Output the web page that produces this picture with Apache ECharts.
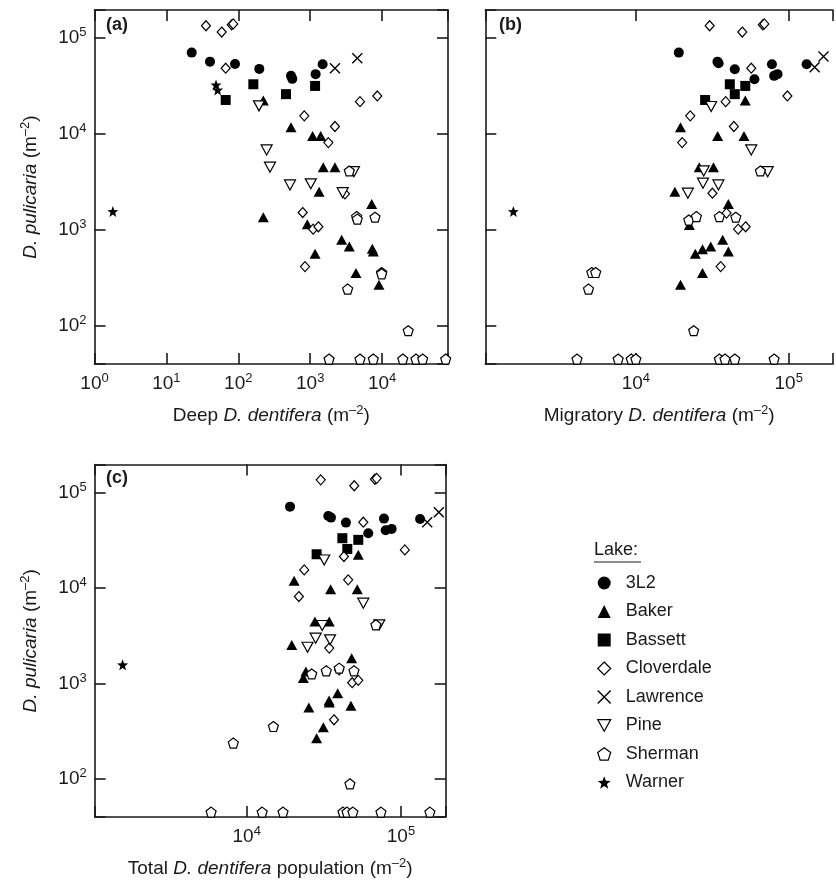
<!DOCTYPE html>
<html><head><meta charset="utf-8">
<script src="https://cdn.jsdelivr.net/npm/echarts@6/dist/echarts.min.js"></script>
<style>html,body{margin:0;padding:0;background:#fff}#c{width:836px;height:882px}</style>
</head><body><div id="c"></div>
<script>
// ---------- data: [D. dentifera (m-2), D. pulicaria (m-2)] ----------
const lakes = ['3L2','Baker','Bassett','Cloverdale','Lawrence','Pine','Sherman','Warner'];

// Panel (a): Deep D. dentifera
const deep_3L2 = [[22.5,70800],[40.4,57000],[90,53900],[196,47900],[541,40500],[564,37700],[1190,42200],[1490,53500]];
const deep_Baker = [[223,22400],[541,11800],[1080,9580],[1400,9580],[1520,4520],[2210,4520],[1330,2510],[7170,1870],[912,1150],[2740,789],[3500,671],[1170,564],[7310,636],[7550,596],[4330,355],[9050,268],[223,1360]];
const deep_Bassett = [[162,33100],[66.8,22700],[461,26100],[1170,31800]];
const deep_Cloverdale = [[35.5,135000],[58.8,116000],[81,138000],[85,141000],[66.8,48700],[828,15500],[4930,21800],[8580,25000],[2210,12000],[1790,8150],[3050,2380],[787,1520],[1100,1020],[1300,1080],[847,415],[4430,1340]];
const deep_Lawrence = [[2210,48700],[4520,61800]];
const deep_Pine = [[194,19700],[248,6840],[276,4520],[524,2950],[1020,3030],[4060,4060],[2830,2450]];
const deep_Sherman = [[3500,4130],[4430,1380],[4520,1300],[7970,1360],[9870,360],[9870,349],[3320,242],[23100,89],[1830,45],[4930,45],[7550,45],[19400,45],[29600,45],[36700,45],[76700,45]];
const deep_Warner = [[49,32600],[51.7,28900],[1.8,1560]];

// Panel (b): Migratory D. dentifera
const migr_3L2 = [[19100,70800],[34200,57000],[34800,54800],[44400,47500],[77700,53500],[80300,40500],[84500,42200],[59700,37400],[131000,53500]];
const migr_Baker = [[52000,22400],[19600,11800],[34300,9580],[51000,9580],[26000,4520],[32200,4520],[18000,2510],[40300,1870],[24500,1380],[22400,1130],[37000,789],[30900,671],[27300,631],[24500,564],[40300,596],[27300,355],[19600,268]];
const migr_Bassett = [[41200,33100],[52000,31800],[44400,26100],[28400,22700]];
const migr_Cloverdale = [[30400,135000],[49700,116000],[67700,138000],[69300,141000],[56900,48700],[38700,21800],[98100,25000],[22700,15500],[43800,12000],[20100,8150],[31700,2420],[39200,1500],[46700,1020],[52300,1080],[35900,415]];
const migr_Lawrence = [[148000,49900],[169000,64300]];
const migr_Pine = [[31100,19400],[56900,6840],[27800,4130],[72900,4060],[27500,3080],[34700,2950],[21900,2420]];
const migr_Sherman = [[65300,4130],[35200,1380],[45100,1360],[22200,1270],[24900,1380],[5150,360],[5460,360],[4900,242],[23900,89],[4120,45],[7660,45],[9330,45],[10000,45],[35200,45],[38300,45],[44400,45],[80300,45]];
const migr_Warner = [[1580,1560]];

// Panel (c): Total D. dentifera population
const total_3L2 = [[19100,71300],[33800,57000],[35200,54700],[44000,48500],[77600,53400],[61400,37600],[79600,40400],[87000,41700],[133000,53000]];
const total_Baker = [[52900,22300],[20300,11900],[35000,9730],[52100,9730],[27700,4460],[34300,4460],[19600,2540],[47900,1840],[24200,1340],[23300,1140],[38900,792],[34200,663],[34300,632],[25300,561],[47400,584],[31400,349],[28400,268]];
const total_Bassett = [[41700,33300],[52900,32000],[44900,25700],[28400,22600]];
const total_Cloverdale = [[30200,136000],[49800,118000],[67800,138000],[69600,141000],[57000,49000],[42700,21400],[106000,25100],[23600,15500],[45500,12200],[21800,8150],[34300,2350],[39800,1390],[48300,1020],[52900,1080],[36800,417]];
const total_Lawrence = [[148000,49000],[176000,62400]];
const total_Pine = [[31800,19700],[57000,6950],[30900,4050],[72400,4120],[28000,2990],[34700,2870],[24800,2400]];
const total_Sherman = [[68800,4120],[26400,1260],[32800,1360],[39800,1450],[49600,1360],[14900,355],[8190,238],[46700,89],[5880,45],[12600,45],[17200,45],[42100,45],[44700,45],[48800,45],[74200,45],[154000,45]];
const total_Warner = [[1570,1570]];

// axis ranges
const yRange = [40, 197000];
const xRangeDeep = [1, 82600];
const xRangeMigr = [1035, 195000];
const xRangeTotal = [1035, 195000];

const xNames = ['Deep {i|D. dentifera} (m{s|–2})', 'Migratory {i|D. dentifera} (m{s|–2})', 'Total {i|D. dentifera} population (m{s|–2})'];
const yName = '{i|D. pulicaria} (m{s|–2})';

const panels = [
  {label:'(a)', sets:{'3L2':deep_3L2,Baker:deep_Baker,Bassett:deep_Bassett,Cloverdale:deep_Cloverdale,Lawrence:deep_Lawrence,Pine:deep_Pine,Sherman:deep_Sherman,Warner:deep_Warner}, xr:xRangeDeep},
  {label:'(b)', sets:{'3L2':migr_3L2,Baker:migr_Baker,Bassett:migr_Bassett,Cloverdale:migr_Cloverdale,Lawrence:migr_Lawrence,Pine:migr_Pine,Sherman:migr_Sherman,Warner:migr_Warner}, xr:xRangeMigr},
  {label:'(c)', sets:{'3L2':total_3L2,Baker:total_Baker,Bassett:total_Bassett,Cloverdale:total_Cloverdale,Lawrence:total_Lawrence,Pine:total_Pine,Sherman:total_Sherman,Warner:total_Warner}, xr:xRangeTotal}
];

// ---------- styling ----------
const FONT = '"Liberation Sans", Arial, Helvetica, sans-serif';
const INK = '#1a1a1a';
const MK = '#000';
const grids = [
  {left:94.5, top:10, width:353.5, height:354},
  {left:485.3, top:10, width:352.6, height:354},
  {left:94.7, top:464.5, width:351, height:352.5}
];
const PENT = 'path://M5,0L9.76,3.45L7.94,9.05L2.06,9.05L0.24,3.45Z';
const STAR = 'path://M5,0L6.23,3.3L9.76,3.45L7,5.65L7.94,9.05L5,7.1L2.06,9.05L3,5.65L0.24,3.45L3.77,3.3Z';
const CROSS = 'path://M0,0L10,10M10,0L0,10';
const TRIDOWN = 'path://M0,0L10,0L5,9Z';
const sym = {
  '3L2':{symbol:'circle', symbolSize:10, itemStyle:{color:MK, borderColor:MK, borderWidth:0, opacity:1}},
  'Baker':{symbol:'triangle', symbolSize:[11,10], itemStyle:{color:MK, borderColor:MK, borderWidth:0, opacity:1}},
  'Bassett':{symbol:'rect', symbolSize:10, itemStyle:{color:MK, borderColor:MK, borderWidth:0, opacity:1}},
  'Cloverdale':{symbol:'diamond', symbolSize:[9,10], itemStyle:{color:'#fff', borderColor:MK, borderWidth:1.2, opacity:1}},
  'Lawrence':{symbol:CROSS, symbolSize:10, itemStyle:{color:'rgba(0,0,0,0)', borderColor:MK, borderWidth:1.4, opacity:1}},
  'Pine':{symbol:TRIDOWN, symbolSize:[11,10], itemStyle:{color:'#fff', borderColor:MK, borderWidth:1.2, opacity:1}},
  'Sherman':{symbol:PENT, symbolSize:10, itemStyle:{color:'#fff', borderColor:MK, borderWidth:1.2, opacity:1}},
  'Warner':{symbol:STAR, symbolSize:11, itemStyle:{color:MK, borderColor:MK, borderWidth:0, opacity:1}}
};

function tickFmt(v){
  const l = Math.log10(v), e = Math.round(l);
  if (Math.abs(l - e) > 0.001) return '';
  return '{b|10}{s|' + e + '}';
}
const tickRich = {
  b:{fontSize:19, fontFamily:FONT, color:INK, lineHeight:24},
  s:{fontSize:13, fontFamily:FONT, color:INK, verticalAlign:'top', lineHeight:13}
};
const nameRich = {
  i:{fontSize:19, fontFamily:FONT, color:INK, fontStyle:'italic', lineHeight:24},
  s:{fontSize:13, fontFamily:FONT, color:INK, verticalAlign:'top', lineHeight:13}
};
const lineStyle = {color:INK, width:1.6};

const xAxis = [], yAxis = [], series = [];
panels.forEach((p, g) => {
  xAxis.push({type:'log', logBase:10, gridIndex:g, position:'bottom', min:p.xr[0], max:p.xr[1],
    axisLine:{show:true, lineStyle}, axisTick:{show:true, inside:true, length:11, lineStyle},
    splitLine:{show:false}, minorTick:{show:false},
    axisLabel:{show:true, margin:8, formatter:tickFmt, rich:tickRich, showMinLabel:true, showMaxLabel:true, hideOverlap:false},
    name:xNames[g], nameLocation:'middle', nameGap:40,
    nameTextStyle:{fontSize:19, fontFamily:FONT, color:INK, rich:nameRich}});
  xAxis.push({type:'log', logBase:10, gridIndex:g, position:'top', min:p.xr[0], max:p.xr[1],
    axisLine:{show:true, lineStyle}, axisTick:{show:true, inside:true, length:11, lineStyle},
    splitLine:{show:false}, axisLabel:{show:false}});
  const showY = g !== 1;
  yAxis.push({type:'log', logBase:10, gridIndex:g, position:'left', min:yRange[0], max:yRange[1],
    axisLine:{show:true, lineStyle}, axisTick:{show:true, inside:true, length:11, lineStyle},
    splitLine:{show:false}, minorTick:{show:false},
    axisLabel:{show:showY, margin:8, formatter:tickFmt, rich:tickRich, hideOverlap:false},
    name: showY ? yName : '', nameLocation:'middle', nameGap:52, nameRotate:90,
    nameTextStyle:{fontSize:19, fontFamily:FONT, color:INK, rich:nameRich}});
  yAxis.push({type:'log', logBase:10, gridIndex:g, position:'right', min:yRange[0], max:yRange[1],
    show: g !== 1,
    axisLine:{show:true, lineStyle}, axisTick:{show:true, inside:true, length:11, lineStyle},
    splitLine:{show:false}, axisLabel:{show:false}});
  lakes.forEach(name => {
    const s = sym[name];
    series.push(Object.assign({type:'scatter', name, xAxisIndex:2*g, yAxisIndex:2*g,
      data:p.sets[name], clip:true, silent:true, z:2}, JSON.parse(JSON.stringify(s))));
  });
});

const chart = echarts.init(document.getElementById('c'), null, {renderer:'canvas'});
chart.setOption({
  backgroundColor:'#fff',
  animation:false,
  textStyle:{fontFamily:FONT},
  grid:grids,
  xAxis, yAxis, series,
  legend:{
    data:lakes, orient:'vertical', left:592, top:569, itemWidth:13, itemHeight:13, itemGap:10.5,
    selectedMode:false,
    itemStyle:{borderWidth:'inherit', opacity:1},
    textStyle:{fontSize:18, fontFamily:FONT, color:INK, padding:[0,0,0,10]}
  },
  graphic:[
    {type:'text', left:106, top:16, style:{text:'(a)', font:'bold 18px ' + FONT, fill:INK}},
    {type:'text', left:499, top:16, style:{text:'(b)', font:'bold 18px ' + FONT, fill:INK}},
    {type:'text', left:106, top:469, style:{text:'(c)', font:'bold 18px ' + FONT, fill:INK}},
    {type:'text', left:594, top:541, style:{text:'Lake:', font:'18px ' + FONT, fill:INK}},
    {type:'line', shape:{x1:594, y1:562, x2:641, y2:562}, style:{stroke:INK, lineWidth:1.2}}
  ]
});
</script></body></html>
